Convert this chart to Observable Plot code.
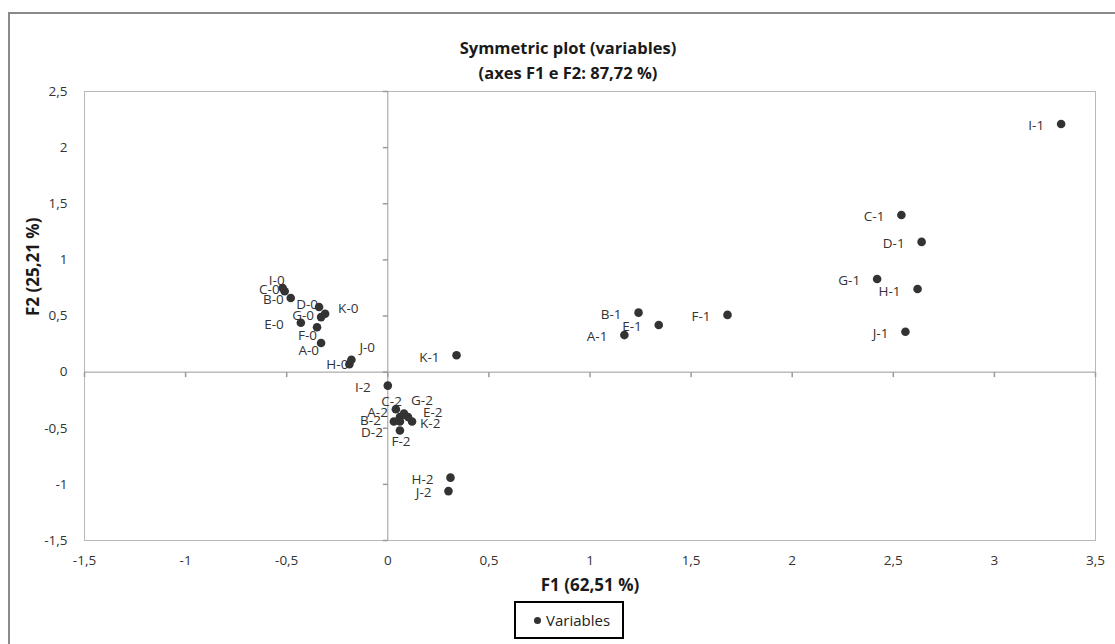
<!DOCTYPE html>
<html>
<head>
<meta charset="utf-8">
<script src="https://cdn.jsdelivr.net/npm/d3@7"></script>
<script src="https://cdn.jsdelivr.net/npm/@observablehq/plot@0.6"></script>
<style>
  html, body { margin: 0; padding: 0; background: #fff; overflow: hidden; }
  #wrap { position: relative; width: 1115px; height: 644px; overflow: hidden; font-family: "Open Sans", sans-serif; }
  #outer { position: absolute; left: 8px; top: 12px; width: 1200px; height: 700px; border-left: 2px solid #8a8a8a; border-top: 2px solid #8a8a8a; }
  #chart { position: absolute; left: 0; top: 0; }
  #title { position: absolute; left: 0; width: 1136px; top: 35px; text-align: center; font-weight: bold; font-size: 16.5px; line-height: 25px; color: #1a1a1a; }
  #legend { position: absolute; left: 514px; top: 601px; width: 106px; height: 34px; border: 2px solid #000; box-sizing: content-box; font-size: 15px; color: #222; display: flex; align-items: center; }
  #legend .sw { display: inline-block; width: 7px; height: 7px; border-radius: 50%; background: #333; margin-left: 18px; margin-right: 5px; }
</style>
</head>
<body>
<div id="wrap">
  <div id="outer"></div>
  <div id="chart"></div>
  <div id="title">Symmetric plot (variables)<br>(axes F1 e F2: 87,72 %)</div>
  <div id="legend"><span class="sw"></span><span>Variables</span></div>
</div>
<script>
// ---- data ----
const labels = ["A-0","B-0","C-0","D-0","E-0","F-0","G-0","H-0","I-0","J-0","K-0",
                "A-1","B-1","C-1","D-1","E-1","F-1","G-1","H-1","I-1","J-1","K-1",
                "A-2","B-2","C-2","D-2","E-2","F-2","G-2","H-2","I-2","J-2","K-2"];
const f1 = [-0.33,-0.48,-0.51,-0.34,-0.43,-0.35,-0.33,-0.19,-0.52,-0.18,-0.31,
             1.17, 1.24, 2.54, 2.64, 1.34, 1.68, 2.42, 2.62, 3.33, 2.56, 0.34,
             0.06, 0.03, 0.04, 0.06, 0.10, 0.06, 0.08, 0.31, 0.00, 0.30, 0.12];
const f2 = [ 0.26, 0.66, 0.72, 0.58, 0.44, 0.40, 0.49, 0.07, 0.75, 0.11, 0.52,
             0.33, 0.53, 1.40, 1.16, 0.42, 0.51, 0.83, 0.74, 2.21, 0.36, 0.15,
            -0.40,-0.44,-0.33,-0.52,-0.40,-0.44,-0.37,-0.94,-0.12,-1.06,-0.44];
const xTicks = [-1.5,-1,-0.5,0,0.5,1,1.5,2,2.5,3,3.5];
const yTicks = [-1.5,-1,-0.5,0,0.5,1,1.5,2,2.5];
const xTitle = "F1 (62,51 %)";
const yTitle = "F2 (25,21 %)";

// ---- label placement (style only) ----
const defaultPlace = ["end", -17, 2];
const place = {
  "I-0": ["end", 2, -7], "C-0": ["end", -5, -2], "B-0": ["end", -7, 2],
  "D-0": ["end", -1, -2], "G-0": ["end", -7, -1], "K-0": ["start", 13, -5],
  "F-0": ["end", 0, 8], "A-0": ["end", -2, 8], "J-0": ["start", 8, -12],
  "H-0": ["end", -1, 0], "C-2": ["end", 6, -7], "G-2": ["start", 7, -13],
  "A-2": ["end", -12, -4], "E-2": ["start", 15, -4], "B-2": ["end", -13, -1],
  "K-2": ["start", 8, 2], "F-2": ["middle", 1, 20], "H-1": ["end", -17, 3]
};

const idx = labels.map((_, i) => i);
const fmt = d => String(d).replace(".", ",");
const gray = "#9a9a9a";
const tickDown = {draw(ctx) { ctx.moveTo(0, 0); ctx.lineTo(0, 5); }};
const tickLeft = {draw(ctx) { ctx.moveTo(0, 0); ctx.lineTo(-5, 0); }};

const labelMarks = idx.map(i => {
  const [anchor, dx, dy] = place[labels[i]] || defaultPlace;
  return Plot.text([i], {x: j => f1[j], y: j => f2[j], text: j => labels[j],
    textAnchor: anchor, dx, dy, fontSize: 13.5, fill: "#333"});
});

const chart = Plot.plot({
  width: 1115, height: 600,
  marginLeft: 84, marginRight: 20, marginTop: 91, marginBottom: 60,
  style: {fontFamily: "'Open Sans', sans-serif", background: "transparent"},
  x: {domain: [-1.5, 3.5]},
  y: {domain: [-1.5, 2.5]},
  marks: [
    Plot.frame({stroke: "#b8b8b8"}),
    Plot.ruleY([0], {stroke: gray}),
    Plot.ruleX([0], {stroke: gray}),
    Plot.dot(xTicks, {x: d => d, y: () => 0, symbol: tickDown, stroke: gray, fill: "none", r: 3}),
    Plot.dot(yTicks, {x: () => 0, y: d => d, symbol: tickLeft, stroke: gray, fill: "none", r: 3}),
    Plot.axisX({ticks: xTicks, tickSize: 0, tickPadding: 15, tickFormat: fmt, label: null, fontSize: 13.5, color: "#333"}),
    Plot.axisY({ticks: yTicks, tickSize: 0, tickPadding: 17, tickFormat: fmt, label: null, fontSize: 13.5, color: "#333"}),
    Plot.text([xTitle], {frameAnchor: "bottom", dy: 50, fontWeight: "bold", fontSize: 17, fill: "#1a1a1a"}),
    Plot.text([yTitle], {frameAnchor: "left", dx: -51, rotate: -90, fontWeight: "bold", fontSize: 17, fill: "#1a1a1a"}),
    Plot.dot(idx, {x: i => f1[i], y: i => f2[i], r: 4.3, fill: "#333", stroke: "none"}),
    ...labelMarks
  ]
});
document.getElementById("chart").appendChild(chart);
</script>
</body>
</html>
